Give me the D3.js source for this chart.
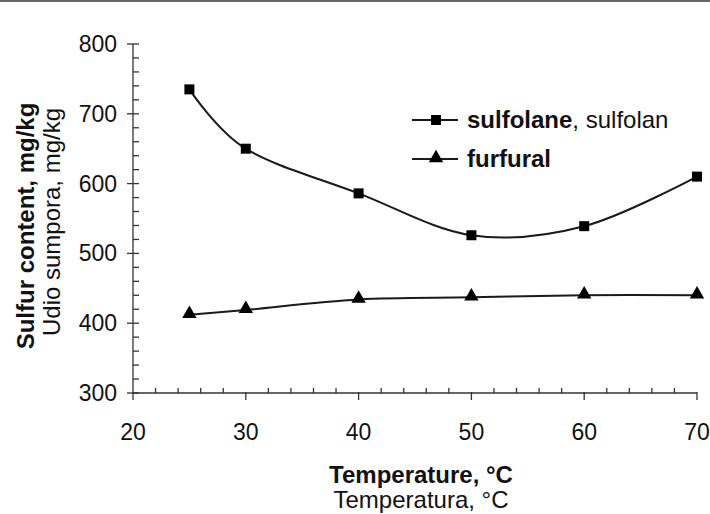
<!DOCTYPE html>
<html>
  <head>
    <meta http-equiv="Content-Type" content="text/html;charset=utf-8">
    <title>Sulfur content vs temperature</title>
    <script src="https://d3js.org/d3.v7.min.js"></script>
    <style>
      html, body {
        margin: 0;
        padding: 0;
        background: #fff;
      }
      text {
        font-family: "Liberation Sans", Arial, sans-serif;
        fill: #111;
      }
      .series {
        fill: none;
        stroke: #1a1a1a;
        stroke-width: 2px;
      }
    </style>
  </head>
  <body>
    <script type="text/javascript">

// temperatures (°C)
var temperature = [25, 30, 40, 50, 60, 70];
// sulfur content, mg/kg
var sulfolane = [735, 650, 586, 526, 539, 610];
var furfural = [412, 419, 434, 437, 440, 440];

var xTicks = [20, 30, 40, 50, 60, 70];
var yTicks = [300, 400, 500, 600, 700, 800];

var width = 710, height = 514;

var svg = d3.select("body").append("svg")
  .attr("width", width)
  .attr("height", height);

// thin frame line on top of the figure
svg.append("line")
  .attr("x1", 0).attr("x2", width)
  .attr("y1", 1).attr("y2", 1)
  .style("stroke", "#666")
  .style("stroke-width", 2);

var x = d3.scaleLinear().domain([20, 70]).range([133, 697]);
var y = d3.scaleLinear().domain([300, 800]).range([393, 44]);

// minor ticks
var xMinor = d3.range(22, 70, 2).filter(function(d) { return d % 10 != 0; });
var yMinor = d3.range(320, 800, 20).filter(function(d) { return d % 100 != 0; });

var axes = svg.append("g").style("stroke", "#333").style("stroke-width", 1.3);

axes.append("line")
  .attr("x1", x(20)).attr("x2", x(70))
  .attr("y1", y(300)).attr("y2", y(300));
axes.append("line")
  .attr("x1", x(20)).attr("x2", x(20))
  .attr("y1", y(300)).attr("y2", y(800));

axes.selectAll(".xmaj").data(xTicks).enter().append("line")
  .attr("x1", function(d) { return x(d); })
  .attr("x2", function(d) { return x(d); })
  .attr("y1", y(300) - 1)
  .attr("y2", y(300) + 7);
axes.selectAll(".xmin").data(xMinor).enter().append("line")
  .attr("x1", function(d) { return x(d); })
  .attr("x2", function(d) { return x(d); })
  .attr("y1", y(300))
  .attr("y2", y(300) - 5);

axes.selectAll(".ymaj").data(yTicks).enter().append("line")
  .attr("x1", x(20) - 6)
  .attr("x2", x(20) + 6)
  .attr("y1", function(d) { return y(d); })
  .attr("y2", function(d) { return y(d); });
axes.selectAll(".ymin").data(yMinor).enter().append("line")
  .attr("x1", x(20))
  .attr("x2", x(20) + 6)
  .attr("y1", function(d) { return y(d); })
  .attr("y2", function(d) { return y(d); });

// tick labels
svg.selectAll(".xl").data(xTicks).enter().append("text")
  .attr("x", function(d) { return x(d); })
  .attr("y", y(300) + 47)
  .attr("text-anchor", "middle")
  .style("font-size", "23px")
  .text(function(d) { return d; });

svg.selectAll(".yl").data(yTicks).enter().append("text")
  .attr("x", x(20) - 16)
  .attr("y", function(d) { return y(d) + 8; })
  .attr("text-anchor", "end")
  .style("font-size", "23px")
  .text(function(d) { return d; });

// axis titles
svg.append("text")
  .attr("transform", "translate(34,226) rotate(-90)")
  .attr("text-anchor", "middle")
  .style("font-size", "24px")
  .style("font-weight", "bold")
  .text("Sulfur content, mg/kg");
svg.append("text")
  .attr("transform", "translate(60,222) rotate(-90)")
  .attr("text-anchor", "middle")
  .style("font-size", "24px")
  .text("Udio sumpora, mg/kg");

svg.append("text")
  .attr("x", 421).attr("y", 483)
  .attr("text-anchor", "middle")
  .style("font-size", "24px")
  .style("font-weight", "bold")
  .text("Temperature, °C");
svg.append("text")
  .attr("x", 421).attr("y", 508)
  .attr("text-anchor", "middle")
  .style("font-size", "24px")
  .text("Temperatura, °C");

// smoothed lines
var line = d3.line()
  .x(function(d) { return x(d[0]); })
  .y(function(d) { return y(d[1]); })
  .curve(d3.curveCardinal.tension(0));

var sulfData = d3.zip(temperature, sulfolane);
var furfData = d3.zip(temperature, furfural);

svg.append("path").attr("class", "series").attr("d", line(sulfData));
svg.append("path").attr("class", "series").attr("d", line(furfData));

var square = d3.symbol().type(d3.symbolSquare).size(100);
var triangle = d3.symbol().type(d3.symbolTriangle).size(90);

svg.selectAll(".sq").data(sulfData).enter().append("path")
  .attr("d", square)
  .attr("transform", function(d) { return "translate(" + x(d[0]) + "," + y(d[1]) + ")"; })
  .style("fill", "#000");

svg.selectAll(".tr").data(furfData).enter().append("path")
  .attr("d", triangle)
  .attr("transform", function(d) { return "translate(" + x(d[0]) + "," + (y(d[1]) - 1) + ")"; })
  .style("fill", "#000");

// legend
var legend = svg.append("g");
var items = [
  {name: "sulfolane", extra: ", sulfolan", sym: square, ly: 120},
  {name: "furfural", extra: "", sym: triangle, ly: 159}
];
items.forEach(function(it) {
  legend.append("line")
    .attr("x1", 412).attr("x2", 458)
    .attr("y1", it.ly).attr("y2", it.ly)
    .attr("class", "series");
  legend.append("path")
    .attr("d", it.sym)
    .attr("transform", "translate(436," + (it.sym === triangle ? it.ly - 1 : it.ly) + ")")
    .style("fill", "#000");
  var t = legend.append("text")
    .attr("x", 467).attr("y", it.ly + 8)
    .style("font-size", "24px");
  t.append("tspan").style("font-weight", "bold").text(it.name);
  if (it.extra) t.append("tspan").text(it.extra);
});

    </script>
  </body>
</html>
